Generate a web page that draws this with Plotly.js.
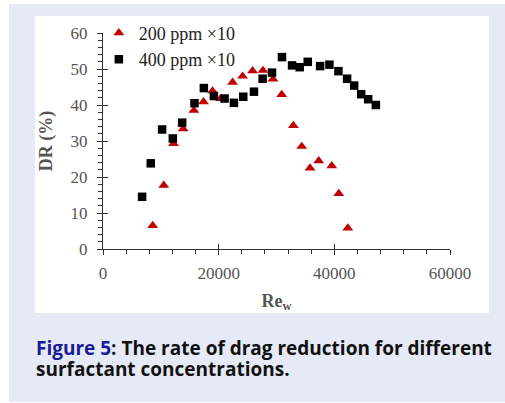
<!DOCTYPE html>
<html>
<head>
<meta charset="utf-8">
<script src="https://cdn.plot.ly/plotly-3.0.1.min.js"></script>
<style>
  html, body { margin: 0; padding: 0; background: #ffffff; width: 505px; height: 403px; overflow: hidden; }
  #box { position: absolute; left: 9px; top: 4px; width: 496px; height: 398px; background: #e6eaf6; }
  #panel { position: absolute; left: 35px; top: 16px; width: 454px; height: 297px; background: #ffffff; }
  #chart { position: absolute; left: 0; top: 0; width: 505px; height: 403px; }
  #caption { position: absolute; left: 36px; top: 338px; width: 466px; font-family: "Open Sans", "Noto Sans", sans-serif; font-weight: 700; font-size: 19px; line-height: 21px; color: #111; }
  #caption .fig { color: #1a1a9a; }
</style>
</head>
<body>
<div id="box"></div>
<div id="panel"></div>
<div id="chart"></div>
<div id="caption"><span class="fig">Figure 5</span><span>: The rate of drag reduction for different surfactant concentrations.</span></div>
<script>
// 200 ppm ×10 series
const re200 = [8600, 10500, 12200, 13860, 15710, 17380, 18940, 20330, 22410, 24140, 25870, 27660, 29390, 30900, 32920, 34360, 35800, 37300, 39560, 40770, 42330];
const dr200 = [6.5, 17.7, 29.3, 33.4, 38.5, 40.9, 43.9, 41.8, 46.3, 48.0, 49.5, 49.6, 47.2, 42.9, 34.3, 28.5, 22.5, 24.5, 23.1, 15.4, 5.8];
// 400 ppm ×10 series
const re400 = [6760, 8260, 10220, 12070, 13690, 15820, 17440, 19170, 21020, 22640, 24250, 26100, 27600, 29220, 30950, 32690, 34010, 35400, 37540, 39150, 40710, 42210, 43430, 44640, 45850, 47180];
const dr400 = [14.5, 23.8, 33.2, 30.7, 35.1, 40.5, 44.7, 42.5, 41.8, 40.6, 42.3, 43.7, 47.3, 49.0, 53.3, 51.0, 50.5, 52.0, 50.8, 51.2, 49.4, 47.3, 45.4, 43.0, 41.6, 40.0];
const seriesNames = ["200 ppm ×10", "400 ppm ×10"];
const xTickVals = [0, 20000, 40000, 60000];
const yTickVals = [0, 10, 20, 30, 40, 50, 60];

const serif = "'Liberation Serif', 'Times New Roman', serif";
const traces = [
  { x: re200, y: dr200, name: seriesNames[0], type: 'scatter', mode: 'markers',
    marker: { symbol: 'triangle-up', size: 9.5, color: '#c00000' } },
  { x: re400, y: dr400, name: seriesNames[1], type: 'scatter', mode: 'markers',
    marker: { symbol: 'square', size: 8.5, color: '#000000' } },
  { x: [], y: [], xaxis: 'x2', yaxis: 'y2', showlegend: false, hoverinfo: 'skip', type: 'scatter', mode: 'markers' }
];

const layout = {
  width: 505, height: 403,
  paper_bgcolor: 'rgba(0,0,0,0)', plot_bgcolor: 'rgba(0,0,0,0)',
  margin: { l: 103, r: 55, t: 33, b: 154, pad: 0 },
  showlegend: true,
  legend: { x: -0.012, y: 1.085, xanchor: 'left', yanchor: 'top', bgcolor: 'rgba(0,0,0,0)',
            font: { family: serif, size: 18, color: '#222' }, itemwidth: 30 },
  xaxis: {
    range: [0, 60000], tickvals: xTickVals, ticktext: xTickVals.map(String),
    showline: true, linecolor: '#333', linewidth: 1, showgrid: false, zeroline: false,
    ticks: 'outside', ticklen: 5, tickcolor: '#333', ticklabelstandoff: 4,
    minor: { dtick: 4000, tick0: 0, ticks: 'outside', ticklen: 4, tickcolor: '#333' },
    tickfont: { family: serif, size: 17, color: '#555' },
    title: { text: '<b>Re<sub>w</sub></b>', font: { family: serif, size: 18, color: '#555' }, standoff: 11 }
  },
  yaxis: {
    range: [0, 60], tickvals: yTickVals,
    showline: true, linecolor: '#333', linewidth: 1, showgrid: false, zeroline: false,
    ticks: 'outside', ticklen: 5, tickcolor: '#333', ticklabelstandoff: 6,
    minor: { dtick: 2, tick0: 0, ticks: 'outside', ticklen: 4, tickcolor: '#333' },
    tickfont: { family: serif, size: 17, color: '#555' },
    title: { text: '<b>DR (%)</b>', font: { family: serif, size: 18, color: '#555' }, standoff: 13 }
  },
  xaxis2: { overlaying: 'x', anchor: 'y', side: 'bottom', range: [0, 60000], tickvals: xTickVals,
            ticks: 'inside', ticklen: 5, tickcolor: '#333', showticklabels: false, showline: false, showgrid: false, zeroline: false },
  yaxis2: { overlaying: 'y', anchor: 'x', side: 'left', range: [0, 60], tickvals: yTickVals,
            ticks: 'inside', ticklen: 5, tickcolor: '#333', showticklabels: false, showline: false, showgrid: false, zeroline: false }
};

Plotly.newPlot('chart', traces, layout, { displayModeBar: false, staticPlot: true });
</script>
</body>
</html>
